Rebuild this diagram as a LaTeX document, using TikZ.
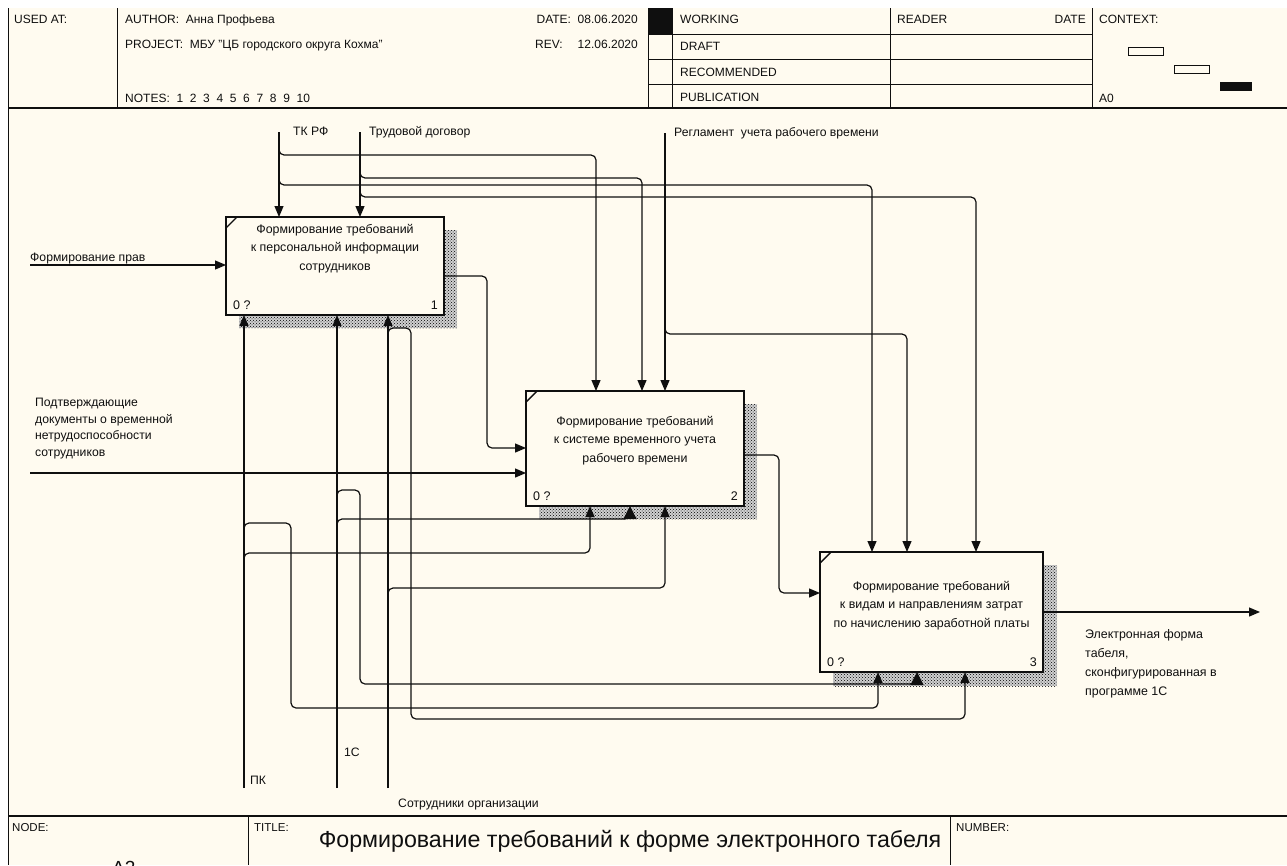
\documentclass[tikz,border=0pt]{standalone}
\usepackage{fontspec}
\setmainfont{Liberation Sans}
\usetikzlibrary{arrows.meta,patterns,calc}
\definecolor{paper}{RGB}{255,251,240}
\definecolor{ink}{RGB}{15,15,15}
\begin{document}
\begin{tikzpicture}[x=1pt,y=-1pt,
  arr/.style={draw=ink, line width=1.2pt, rounded corners=5pt, -{Triangle[length=11pt,width=9pt]}},
  bigarr/.style={arr, -{Triangle[length=13pt,width=13pt]}},
  fnbox/.style={draw=ink, fill=paper, line width=2.6pt, anchor=north west, inner sep=0pt, outer sep=0pt},
  boxtext/.style={font=\fontsize{12.4}{18.5}\selectfont, align=center, anchor=north, inner sep=0pt, text=ink},
  lbl/.style={font=\fontsize{12.2}{16.5}\selectfont, anchor=base west, inner sep=0pt, align=left, text=ink},
  hdr/.style={font=\fontsize{12}{12}\selectfont, anchor=base west, inner sep=0pt, text=ink},
  corner/.style={font=\fontsize{12.5}{12.5}\selectfont, inner sep=0pt, text=ink},
  rule/.style={draw=ink, line width=0.9pt},
  heavy/.style={draw=ink, line width=2pt},
  shadowfill/.style={pattern=crosshatch dots, pattern color=black},
]
\useasboundingbox (0,0) rectangle (1287,865);
\fill[white] (0,0) rectangle (1287,865);
\fill[paper] (8,8) rectangle (1287,865);

% ---------- header block ----------
\draw[rule] (8,8) -- (8,865);
\draw[rule] (117,8) -- (117,108);
\draw[rule] (648,8) -- (648,108);
\fill[ink] (648,8) rectangle (672,34);
\draw[rule] (672,8) -- (672,108);
\draw[rule] (890,8) -- (890,108);
\draw[rule] (1092,8) -- (1092,108);
\foreach \yy in {34,59,84} \draw[rule] (648,\yy) -- (1092,\yy);
\draw[heavy] (8,108) -- (1287,108);

\node[hdr] (usedat) at (14,23.5) {USED AT:};
\node[hdr] (author) at (125,23.5) {AUTHOR:\ \ Анна Профьева};
\node[hdr] (project) at (125,48.5) {PROJECT:\ \ МБУ "ЦБ городского округа Кохма"};
\node[hdr] (notes) at (125,102.5) {NOTES:\ \ 1\ \ 2\ \ 3\ \ 4\ \ 5\ \ 6\ \ 7\ \ 8\ \ 9\ \ 10};
\node[hdr, anchor=base east] (date) at (638,23.5) {DATE:\ \ 08.06.2020};
\node[hdr] (rev) at (535,48.5) {REV:};
\node[hdr, anchor=base east] (revdate) at (638,48.5) {12.06.2020};
\node[hdr] (working) at (680,23.5) {WORKING};
\node[hdr] (draft) at (680,50) {DRAFT};
\node[hdr] (recommended) at (680,76) {RECOMMENDED};
\node[hdr] (publication) at (680,101.5) {PUBLICATION};
\node[hdr] (reader) at (897,23.5) {READER};
\node[hdr, anchor=base east] (rdate) at (1086,23.5) {DATE};
\node[hdr] (context) at (1099,23.5) {CONTEXT:};
\node[hdr] (azero) at (1099,102.5) {A0};
\draw[ink, line width=1pt] (1128,47) rectangle (1163,55);
\draw[ink, line width=1pt] (1174,65) rectangle (1209,73);
\fill[ink] (1220,82) rectangle (1252,91);

% ---------- title block ----------
\draw[heavy] (8,816) -- (1287,816);
\draw[rule] (248,816) -- (248,865);
\draw[rule] (950,816) -- (950,865);
\node[hdr, font=\fontsize{11.5}{11.5}\selectfont] (nodelbl) at (12,831) {NODE:};
\node[hdr, font=\fontsize{11.5}{11.5}\selectfont] (titlelbl) at (254,831) {TITLE:};
\node[hdr, font=\fontsize{11.5}{11.5}\selectfont] (numlbl) at (956,831) {NUMBER:};
\node[hdr, font=\fontsize{23.2}{23.2}\selectfont, anchor=base] (title) at (630,847) {Формирование требований к форме электронного табеля};
\begin{scope}
  \clip (8,816) rectangle (248,865);
  \node[hdr, font=\fontsize{19}{19}\selectfont] (nodenum) at (112,874) {A2};
\end{scope}

% ---------- activity boxes with hatched shadows ----------
\foreach \xa/\ya/\xb/\yb in {239/230/457/328, 539/404/757/519, 833/565/1057/686}{
  \fill[black!18] (\xa,\ya) rectangle (\xb,\yb);
  \fill[shadowfill] (\xa,\ya) rectangle (\xb,\yb);
}

\node[fnbox, minimum width=218pt, minimum height=98pt] (b1) at (226,217) {};
\node[fnbox, minimum width=218pt, minimum height=115pt] (b2) at (526,391) {};
\node[fnbox, minimum width=223pt, minimum height=120pt] (b3) at (820,552) {};

\foreach \b in {b1,b2,b3}
  \draw[ink, line width=1.4pt] ($(\b.north west)+(0,11)$) -- ($(\b.north west)+(11,0)$);

\node[boxtext] (b1t) at ($(b1.north)+(0,7)$) {Формирование требований\\к персональной информации\\сотрудников};
\node[boxtext] (b2t) at ($(b2.north)+(0,25)$) {Формирование требований\\к системе временного учета\\рабочего времени};
\node[boxtext] (b3t) at ($(b3.north)+(0,29)$) {Формирование требований\\к видам и направлениям затрат\\по начислению заработной платы};

\node[corner, anchor=south west] (b1q) at ($(b1.south west)+(7,-5)$) {0 ?};
\node[corner, anchor=south east] (b1n) at ($(b1.south east)+(-6,-5)$) {1};
\node[corner, anchor=south west] (b2q) at ($(b2.south west)+(7,-5)$) {0 ?};
\node[corner, anchor=south east] (b2n) at ($(b2.south east)+(-6,-5)$) {2};
\node[corner, anchor=south west] (b3q) at ($(b3.south west)+(7,-5)$) {0 ?};
\node[corner, anchor=south east] (b3n) at ($(b3.south east)+(-6,-5)$) {3};

% ---------- boundary arrow ends ----------
\coordinate (tk) at (279,132);
\coordinate (td) at (360,132);
\coordinate (reg) at (665,133);
\coordinate (inprav) at (30,265);
\coordinate (indoc) at (30,473);
\coordinate (pk) at (244,788);
\coordinate (onec) at (337,788);
\coordinate (staff) at (388,788);
\coordinate (outend) at (1260,612);

% ---------- labels (multi-line ones are placed by their last baseline) ----------
\node[lbl] (tklbl) at (293,135) {ТК РФ};
\node[lbl] (tdlbl) at (369,135) {Трудовой договор};
\node[lbl] (reglbl) at (674,136) {Регламент\ \ учета рабочего времени};
\node[lbl] (pravlbl) at (30,261) {Формирование прав};
\node[lbl] (doclbl) at (35,456) {Подтверждающие\\документы о временной\\нетрудоспособности\\сотрудников};
\node[lbl] (pklbl) at (250,784) {ПК};
\node[lbl] (onelbl) at (344,756) {1С};
\node[lbl] (stafflbl) at (398,807) {Сотрудники организации};
\node[lbl, font=\fontsize{12.4}{19}\selectfont] (outlbl) at (1085,695) {Электронная форма\\табеля,\\сконфигурированная в\\программе 1С};

% ---------- controls ----------
\draw[arr] (tk) -- (tk |- b1.north);
\draw[arr] (td) -- (td |- b1.north);
\draw[arr] ($(tk)+(0,15)$) |- (596,155) -- (596,0 |- b2.north);
\draw[arr] ($(tk)+(0,45)$) |- (872,185) -- (872,0 |- b3.north);
\draw[arr] ($(td)+(0,38)$) |- (642,178) -- (642,0 |- b2.north);
\draw[arr] ($(td)+(0,57)$) |- (976,197) -- (976,0 |- b3.north);
\draw[arr] (reg) -- (reg |- b2.north);
\draw[arr] ($(reg)+(0,193)$) |- (907,334) -- (907,0 |- b3.north);

% ---------- inputs and outputs ----------
\draw[arr] (inprav) -- (inprav -| b1.west);
\draw[arr] (indoc) -- (indoc -| b2.west);
\draw[arr] (b1.east |- 0,276) -| (487,448) -- (b2.west |- 0,448);
\draw[arr] (b2.east |- 0,455) -| (779,593) -- (b3.west |- 0,593);
\draw[arr] (b3.east |- outend) -- (outend);

% ---------- mechanisms ----------
\draw[arr] (pk) -- (pk |- b1.south);
\draw[arr] (onec) -- (onec |- b1.south);
\draw[arr] (staff) -- (staff |- b1.south);
\draw[arr] ($(pk |- 0,561)$) |- (590,553) -- (590,0 |- b2.south);
\draw[bigarr] ($(onec |- 0,527)$) |- (630,519) -- (630,0 |- b2.south);
\draw[arr] ($(staff |- 0,596)$) |- (665,588) -- (665,0 |- b2.south);
\draw[arr] ($(pk |- 0,531)$) |- (291,523) |- (878,708) -- (878,0 |- b3.south);
\draw[bigarr] ($(onec |- 0,498)$) |- (360,490) |- (917,684) -- (917,0 |- b3.south);
\draw[arr] ($(staff |- 0,336)$) |- (411,328) |- (965,719) -- (965,0 |- b3.south);
\end{tikzpicture}
\end{document}
